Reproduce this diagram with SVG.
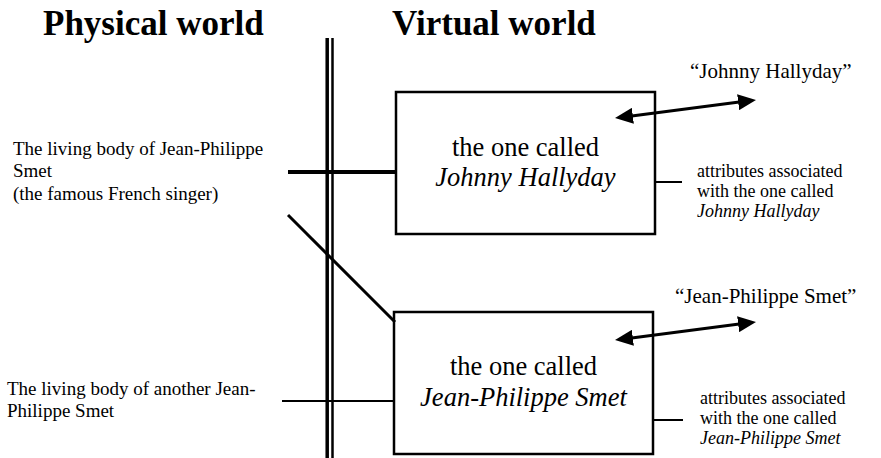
<svg xmlns="http://www.w3.org/2000/svg" width="881" height="458" viewBox="0 0 881 458">
<style>
text{font-family:"Liberation Serif","Times New Roman",serif;fill:#000}
.title{font-size:35px;font-weight:bold}
.side{font-size:19px}
.attr{font-size:18px}
.quote{font-size:21px}
.inbox{font-size:26.5px;text-anchor:middle}
.it{font-style:italic}
.box{fill:#fff;stroke:#000;stroke-width:2.5}
.ln{stroke:#000;fill:none}
</style>
<defs>
<marker id="ah" viewBox="0 0 18 16" refX="5" refY="8" markerWidth="18" markerHeight="16" markerUnits="userSpaceOnUse" orient="auto-start-reverse">
<path d="M0,0 L18,8 L0,16 z" fill="#000"/>
</marker>
</defs>
<g id="titles">
<text class="title" x="43" y="35">Physical world</text>
<text class="title" x="392" y="35">Virtual world</text>
</g>
<g id="divider">
<line class="ln" x1="327.2" y1="38" x2="327.2" y2="458" stroke-width="3.5"/>
<line class="ln" x1="332.5" y1="38" x2="332.5" y2="458" stroke-width="2.5"/>
</g>
<g id="body1">
<text class="side" x="13" y="155">The living body of Jean-Philippe</text>
<text class="side" x="13" y="177">Smet</text>
<text class="side" x="13" y="200">(the famous French singer)</text>
</g>
<g id="body2">
<text class="side" x="7" y="395">The living body of another Jean-</text>
<text class="side" x="7" y="417">Philippe Smet</text>
</g>
<g id="box1">
<rect class="box" x="396" y="92" width="259" height="142"/>
<text class="inbox" x="525.5" y="156">the one called</text>
<text class="inbox it" x="525.5" y="186">Johnny Hallyday</text>
</g>
<g id="box2">
<rect class="box" x="394" y="312" width="259" height="142"/>
<text class="inbox" x="523.5" y="375">the one called</text>
<text class="inbox it" x="523.5" y="406">Jean-Philippe Smet</text>
</g>
<g id="name1">
<text class="quote" x="690" y="78">“Johnny Hallyday”</text>
</g>
<g id="name2">
<text class="quote" x="675" y="303">“Jean-Philippe Smet”</text>
</g>
<g id="attr1">
<text class="attr" x="697" y="177">attributes associated</text>
<text class="attr" x="697" y="197">with the one called</text>
<text class="attr it" x="697" y="217">Johnny Hallyday</text>
</g>
<g id="attr2">
<text class="attr" x="700" y="404">attributes associated</text>
<text class="attr" x="700" y="424">with the one called</text>
<text class="attr it" x="700" y="444">Jean-Philippe Smet</text>
</g>
<g id="connectors">
<line class="ln" x1="288" y1="172" x2="396" y2="172" stroke-width="4"/>
<line class="ln" x1="288" y1="215" x2="395" y2="322" stroke-width="3"/>
<line class="ln" x1="282" y1="401" x2="394" y2="401" stroke-width="2"/>
<line class="ln" x1="655" y1="182" x2="682" y2="182" stroke-width="2"/>
<line class="ln" x1="653" y1="420" x2="683" y2="420" stroke-width="2"/>
<line class="ln" x1="627.9" y1="116.4" x2="743.1" y2="101.6" stroke-width="3" marker-start="url(#ah)" marker-end="url(#ah)"/>
<line class="ln" x1="627.9" y1="338.4" x2="743.1" y2="323.6" stroke-width="3" marker-start="url(#ah)" marker-end="url(#ah)"/>
</g>
</svg>
